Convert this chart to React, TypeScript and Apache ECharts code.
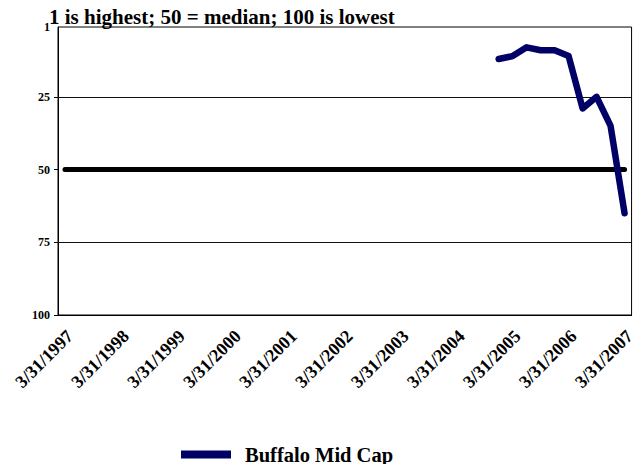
import React, { useEffect, useRef } from "react";
import * as echarts from "echarts";

const categories = [
  "3/31/1997", "6/30/1997", "9/30/1997", "12/31/1997",
  "3/31/1998", "6/30/1998", "9/30/1998", "12/31/1998",
  "3/31/1999", "6/30/1999", "9/30/1999", "12/31/1999",
  "3/31/2000", "6/30/2000", "9/30/2000", "12/31/2000",
  "3/31/2001", "6/30/2001", "9/30/2001", "12/31/2001",
  "3/31/2002", "6/30/2002", "9/30/2002", "12/31/2002",
  "3/31/2003", "6/30/2003", "9/30/2003", "12/31/2003",
  "3/31/2004", "6/30/2004", "9/30/2004", "12/31/2004",
  "3/31/2005", "6/30/2005", "9/30/2005", "12/31/2005",
  "3/31/2006", "6/30/2006", "9/30/2006", "12/31/2006",
  "3/31/2007",
];

const medianValues = [
  50, 50, 50, 50, 50, 50, 50, 50, 50, 50,
  50, 50, 50, 50, 50, 50, 50, 50, 50, 50,
  50, 50, 50, 50, 50, 50, 50, 50, 50, 50,
  50, 50, 50, 50, 50, 50, 50, 50, 50, 50,
  50,
];

const buffaloDates = [
  "12/31/2004", "3/31/2005", "6/30/2005", "9/30/2005", "12/31/2005",
  "3/31/2006", "6/30/2006", "9/30/2006", "12/31/2006", "3/31/2007",
];
const buffaloRanks = [12, 11, 8, 9, 9, 11, 29, 25, 35, 65];

const yLabelValues = [1, 25, 50, 75, 100];
const yTickValues = [25, 50, 75, 100];
const gridValues = [25, 75];

const titleText = "1 is highest; 50 = median; 100 is lowest";
const seriesName = "Buffalo Mid Cap";
const FONT = "Liberation Serif";

export default function App() {
  const ref = useRef<HTMLDivElement>(null);
  useEffect(() => {
    if (!ref.current) return;
    const chart = echarts.init(ref.current, undefined, { renderer: "svg" });
    chart.setOption({
      animation: false,
      backgroundColor: "#ffffff",
      title: {
        text: titleText,
        left: 49,
        top: 6,
        padding: 0,
        textStyle: { fontFamily: FONT, fontWeight: "bold", fontSize: 21, color: "#000" },
      },
      legend: {
        data: [seriesName],
        left: 181,
        top: 444,
        padding: 0,
        icon: "rect",
        itemWidth: 50,
        itemHeight: 8,
        textStyle: {
          fontFamily: FONT,
          fontWeight: "bold",
          fontSize: 20.5,
          color: "#000",
          padding: [0, 0, 0, 9],
        },
      },
      grid: {
        left: 58,
        right: 6,
        top: 27,
        bottom: 149,
        show: true,
        borderColor: "#000",
        borderWidth: 1,
        backgroundColor: "transparent",
      },
      xAxis: {
        type: "category",
        data: categories,
        boundaryGap: true,
        axisLine: { show: true, lineStyle: { color: "#000", width: 1 } },
        axisTick: { show: false },
        splitLine: { show: false },
        axisLabel: {
          interval: 3,
          rotate: 45,
          margin: 23,
          padding: [0, -7, 0, 0],
          fontFamily: FONT,
          fontWeight: "bold",
          fontSize: 18,
          color: "#000",
        },
      },
      yAxis: {
        type: "value",
        inverse: true,
        min: 1,
        max: 100,
        axisLine: { show: true, lineStyle: { color: "#000", width: 1 } },
        axisTick: {
          show: true,
          length: 4,
          customValues: yTickValues,
          lineStyle: { color: "#000" },
        },
        splitLine: { show: false },
        axisLabel: {
          customValues: yLabelValues,
          margin: 8,
          fontFamily: FONT,
          fontWeight: "bold",
          fontSize: 12,
          color: "#000",
        },
      },
      series: [
        {
          name: "Median",
          type: "line",
          data: medianValues,
          showSymbol: false,
          symbol: "none",
          silent: true,
          z: 2,
          lineStyle: { color: "#000", width: 5, cap: "round" },
          markLine: {
            silent: true,
            symbol: "none",
            label: { show: false },
            lineStyle: { color: "#111", width: 1, type: "solid" },
            data: gridValues.map((v) => ({ yAxis: v })),
            z: 1,
          },
        },
        {
          name: seriesName,
          type: "line",
          data: buffaloDates.map((d, i) => [d, buffaloRanks[i]]),
          showSymbol: false,
          symbol: "none",
          z: 3,
          itemStyle: { color: "#000066" },
          lineStyle: { color: "#000066", width: 6.5, cap: "round", join: "round" },
        },
      ],
    });
    return () => chart.dispose();
  }, []);
  return (
    <div
      ref={ref}
      style={{ position: "fixed", left: 0, top: 0, width: 638, height: 464 }}
    />
  );
}
